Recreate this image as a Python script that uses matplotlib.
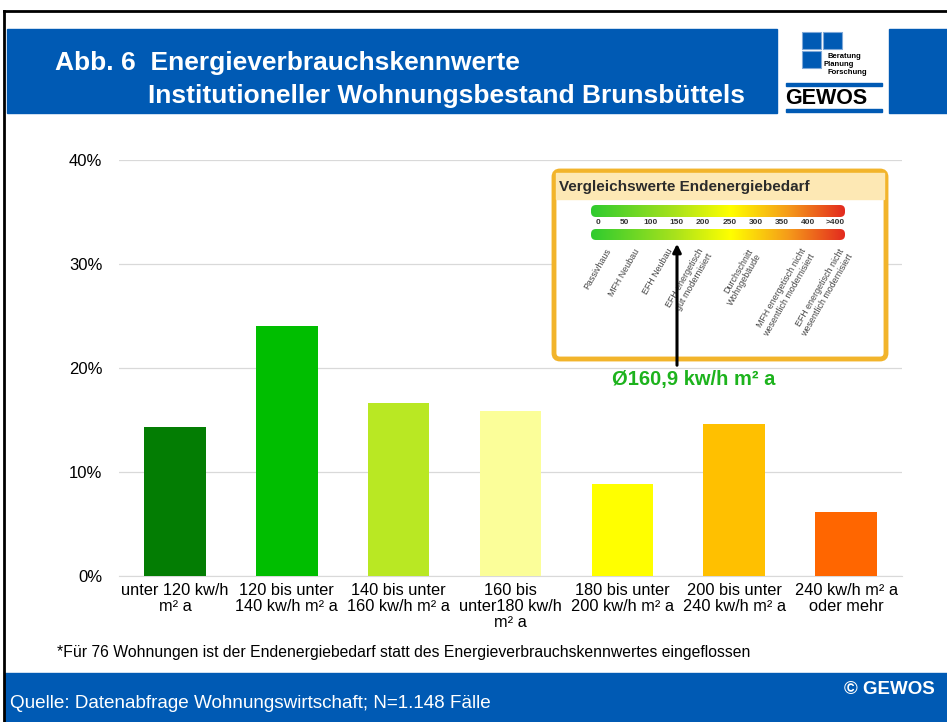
import numpy as np
import matplotlib
matplotlib.use("Agg")
import matplotlib.pyplot as plt
from matplotlib.patches import Rectangle, FancyBboxPatch
from matplotlib.colors import LinearSegmentedColormap

plt.rcParams["font.family"] = ["Liberation Sans", "DejaVu Sans"]

# Daten
kategorien = ["unter 120 kw/h\nm² a", "120 bis unter\n140 kw/h m² a", "140 bis unter\n160 kw/h m² a",
              "160 bis\nunter180 kw/h\nm² a", "180 bis unter\n200 kw/h m² a", "200 bis unter\n240 kw/h m² a",
              "240 kw/h m² a\noder mehr"]
anteile = [14.3, 24.0, 16.6, 15.9, 8.8, 14.6, 6.2]
farben = ["#037D03", "#00BE00", "#B9E823", "#FBFE99", "#FFFF00", "#FFC000", "#FF6600"]
yticks = [0, 10, 20, 30, 40]
skala = ["0", "50", "100", "150", "200", "250", "300", "350", "400", ">400"]
gebaeude = ["Passivhaus", "MFH Neubau", "EFH Neubau", "EFH energetisch\ngut modernisiert",
            "Durchschnitt\nWohngebäude", "MFH energetisch nicht\nwesentlich modernisiert",
            "EFH energetisch nicht\nwesentlich modernisiert"]

BLAU = "#005AB4"
W, H = 947, 722
fig = plt.figure(figsize=(W / 100, H / 100), dpi=100)
fig.patch.set_facecolor("white")


def box(x0, y0, x1, y1):
    return [x0 / W, 1 - y1 / H, (x1 - x0) / W, (y1 - y0) / H]


# Balkendiagramm
ax = fig.add_axes(box(119, 160, 902, 576))
x = np.arange(len(anteile))
ax.bar(x, anteile, width=0.55, color=farben, zorder=3)
ax.set_xlim(-0.5, len(anteile) - 0.5)
ax.set_ylim(0, 40)
ax.set_yticks(yticks)
ax.set_yticklabels([f"{v}%" for v in yticks], fontsize=12)
ax.set_xticks(x)
ax.set_xticklabels(kategorien, fontsize=11.8, linespacing=1.08)
ax.tick_params(length=0, pad=5)
ax.tick_params(axis="y", pad=12)
ax.grid(axis="y", color="#D9D9D9", linewidth=0.9, zorder=0)
for s in ["top", "right", "left"]:
    ax.spines[s].set_visible(False)
ax.spines["bottom"].set_color("#D9D9D9")

# Overlay in Pixelkoordinaten
ov = fig.add_axes([0, 0, 1, 1], zorder=5)
ov.set_xlim(0, W)
ov.set_ylim(H, 0)
ov.axis("off")
ov.patch.set_alpha(0)

# Rahmen
ov.plot([4, W], [11, 11], color="black", lw=2)
ov.plot([4, 4], [11, H], color="black", lw=2)

# Kopfzeile
ov.add_patch(Rectangle((7, 29), 770, 84, color=BLAU))
ov.add_patch(Rectangle((889, 29), 58, 84, color=BLAU))
ov.text(55, 63, "Abb. 6  Energieverbrauchskennwerte", color="white", fontsize=19,
        fontweight="bold", va="center")
ov.text(148, 96, "Institutioneller Wohnungsbestand Brunsbüttels", color="white", fontsize=19,
        fontweight="bold", va="center")

# Logo
for (lx, ly) in [(802, 32), (823, 32), (802, 51)]:
    ov.add_patch(Rectangle((lx, ly), 19, 17, facecolor=BLAU, edgecolor="#7FA8D8", lw=0.8))
ov.text(827, 56, "Beratung", fontsize=5.5, fontweight="bold", va="center")
ov.text(823, 64, "Planung", fontsize=5.5, fontweight="bold", va="center")
ov.text(827, 72, "Forschung", fontsize=5.5, fontweight="bold", va="center")
ov.add_patch(Rectangle((786, 83), 96, 3, color=BLAU))
ov.add_patch(Rectangle((786, 109), 96, 3, color=BLAU))
ov.text(785, 98, "GEWOS", fontsize=15.5, fontweight="bold", va="center")

# Vergleichsgrafik
ov.add_patch(FancyBboxPatch((554, 171), 332, 188, boxstyle="round,pad=0,rounding_size=6",
                            facecolor="white", edgecolor="#F2B42B", lw=3.5, zorder=2))
ov.add_patch(Rectangle((556, 173), 328, 26, color="#FDE8B4", zorder=2))
ov.text(559, 187, "Vergleichswerte Endenergiebedarf", fontsize=11, fontweight="bold",
        color="#2B2B2B", va="center", zorder=3)
cmap = LinearSegmentedColormap.from_list(
    "skala", [(0, "#2FCB2F"), (0.33, "#A8E21C"), (0.55, "#FFFF00"), (0.78, "#F59A1A"), (1, "#E32B1F")])
grad = np.linspace(0, 1, 256).reshape(1, -1)
for (gy0, gy1) in [(205, 217), (229, 240)]:
    clip = FancyBboxPatch((591, gy0), 254, gy1 - gy0, boxstyle="round,pad=0,rounding_size=5",
                          facecolor="none", edgecolor="none", transform=ov.transData)
    ov.add_patch(clip)
    im = ov.imshow(grad, cmap=cmap, extent=(591, 845, gy1, gy0), aspect="auto", zorder=3)
    im.set_clip_path(clip)
ov.set_xlim(0, W)
ov.set_ylim(H, 0)
for i, s in enumerate(skala):
    ov.text(598 + i * 26.3, 223, s, fontsize=6, fontweight="bold", ha="center", va="center",
            color="#333333", zorder=3)
gx = [605, 634, 667, 698, 747, 800, 838]
for px, lab in zip(gx, gebaeude):
    ov.text(px, 247, lab, fontsize=6.4, rotation=60, ha="right", va="top", color="#444444",
            rotation_mode="anchor", multialignment="right", linespacing=1.1, zorder=3)
ov.annotate("", xy=(677, 241), xytext=(677, 368), zorder=4,
            arrowprops=dict(arrowstyle="-|>", color="black", lw=2.2, mutation_scale=12))
ov.text(694, 380, "Ø160,9 kw/h m² a", color="#1DB31D", fontsize=14.5, fontweight="bold",
        ha="center", va="center")

# Fußnote und Quelle
ov.text(57, 652, "*Für 76 Wohnungen ist der Endenergiebedarf statt des Energieverbrauchskennwertes eingeflossen",
        fontsize=11.3, va="center")
ov.add_patch(Rectangle((5, 673), W - 5, H - 673, color=BLAU))
ov.text(10, 703, "Quelle: Datenabfrage Wohnungswirtschaft; N=1.148 Fälle", color="white",
        fontsize=13.6, va="center")
ov.text(935, 690, "© GEWOS", color="white", fontsize=13.5, fontweight="bold", ha="right", va="center")

fig.savefig("out.png", dpi=100)
